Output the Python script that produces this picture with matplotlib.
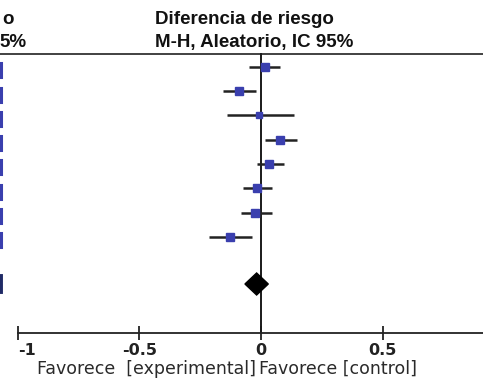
import matplotlib
matplotlib.use("Agg")
import matplotlib.pyplot as plt
from matplotlib.patches import Polygon

# ---- data (risk difference, M-H random, 95% CI) ----
est = [0.017, -0.092, -0.007, 0.079, 0.034, -0.018, -0.024, -0.128]
lo = [-0.048, -0.156, -0.138, 0.017, -0.018, -0.073, -0.084, -0.214]
hi = [0.079, -0.021, 0.136, 0.150, 0.095, 0.044, 0.047, -0.037]
sq_size = [5.3, 5.3, 3.8, 5.3, 5.3, 5.3, 5.3, 5.3]
pooled = (-0.018, -0.066, 0.030)
ticks = [-1, -0.5, 0, 0.5]
tick_labels = ["-1", "-0.5", "0", "0.5"]
header1 = "Diferencia de riesgo"
header2 = "M-H, Aleatorio, IC 95%"
fav_left = "Favorece  [experimental]"
fav_right = "Favorece [control]"

W, H = 483, 381
fig = plt.figure(figsize=(W / 100, H / 100), dpi=100)
ax = fig.add_axes([0, 0, 1, 1])
px = 243.3  # pixels per unit
x0 = 261.0  # pixel of zero
xmin, xmax = -x0 / px, (W - x0) / px
ax.set_xlim(xmin, xmax)
ax.set_ylim(H, 0)

def xp(p):
    return xmin + p / px

blue = "#3a3fae"
dark = "#1a1a1a"

row_y0, row_dy = 66.7, 24.3
ys = [row_y0 + row_dy * i for i in range(len(est))]
y_pool = 284
y_head = 54
y_axis = 333

# header line and zero line
ax.axhline(y_head, color="#333333", lw=1.3)
ax.plot([0, 0], [y_head, y_axis], color=dark, lw=1.4, zorder=2)

# studies
for y, e, l, h, s in zip(ys, est, lo, hi, sq_size):
    ax.plot([l, h], [y, y], color="#222222", lw=1.8, solid_capstyle="butt", zorder=3)
    ax.plot([e], [y], marker="s", ms=s, color=blue, mec=blue, zorder=4)
    ax.plot([xp(1.0), xp(1.0)], [y + 3.5 - 7, y + 3.5 + 7], color=blue, lw=2.2)

# pooled diamond
c, pl, ph = pooled
dh = 11
ax.add_patch(Polygon([[pl, y_pool], [c, y_pool - dh], [ph, y_pool], [c, y_pool + dh]],
                     closed=True, color="black", zorder=5))
ax.plot([xp(1.2), xp(1.2)], [y_pool - 8, y_pool + 8], color="#1f2a66", lw=2.8)

# bottom axis
for s in ["top", "left", "right"]:
    ax.spines[s].set_visible(False)
ax.spines["bottom"].set_position(("data", y_axis))
ax.spines["bottom"].set_bounds(-1, xmax)
ax.spines["bottom"].set_linewidth(1.3)
ax.spines["bottom"].set_color("#222222")
ax.set_yticks([])
ax.set_xticks(ticks)
ax.set_xticklabels(tick_labels, fontfamily="DejaVu Sans", fontweight="bold",
                   fontsize=11.5, color="#222222")
ax.tick_params(axis="x", direction="inout", length=10, width=1.3, pad=2.5,
               color="#222222")
ax.get_xticklabels()[0].set_horizontalalignment("left")

# headers
hfont = dict(family="Liberation Sans", weight="bold", fontsize=13.5, color="#111111")
ax.text(xp(155), 24, header1, ha="left", va="baseline", **hfont)
ax.text(xp(155), 47, header2, ha="left", va="baseline", **hfont)
ax.text(xp(13.5), 24, "o", ha="right", va="baseline", **hfont)
ax.text(xp(27), 47, "5%", ha="right", va="baseline", **hfont)

# favours labels
ffont = dict(family="DejaVu Sans", fontsize=12.5, color="#2a2a2a")
ax.text(xp(256), 374, fav_left, ha="right", va="baseline", **ffont)
ax.text(xp(259), 374, fav_right, ha="left", va="baseline", **ffont)

fig.savefig("out.png", dpi=100)
